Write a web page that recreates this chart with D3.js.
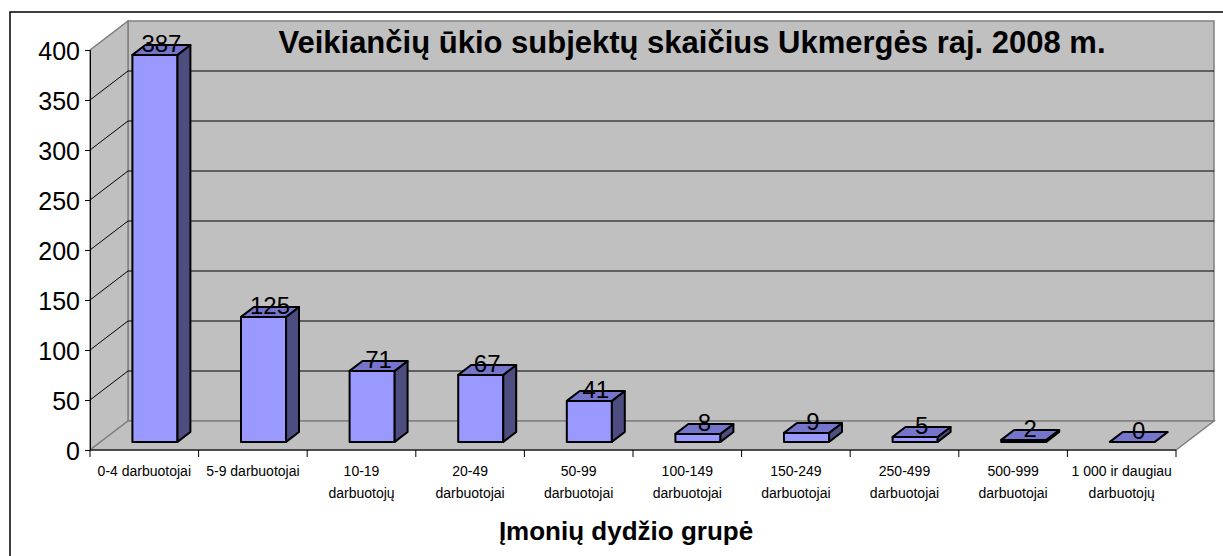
<!DOCTYPE html>
<html>
<head>
<meta charset="utf-8">
<script src="https://cdn.jsdelivr.net/npm/d3@7"></script>
<style>
  body { margin: 0; background: #fff; }
  text { font-family: Arial, "Liberation Sans", sans-serif; }
</style>
</head>
<body>
<svg width="1223" height="556"></svg>
<script>
var categories = ["0-4 darbuotojai", "5-9 darbuotojai", "10-19|darbuotojų", "20-49|darbuotojai",
    "50-99|darbuotojai", "100-149|darbuotojai", "150-249|darbuotojai", "250-499|darbuotojai",
    "500-999|darbuotojai", "1 000 ir daugiau|darbuotojų"];
var values = [387, 125, 71, 67, 41, 8, 9, 5, 2, 0];
var yTicks = [0, 50, 100, 150, 200, 250, 300, 350, 400];
var title = "Veikiančių ūkio subjektų skaičius Ukmergės raj. 2008 m.";
var xTitle = "Įmonių dydžio grupė";

var svg = d3.select("svg");

// 3D depth offset of the back wall
var DX = 38, DY = -29;

var x = d3.scaleBand()
    .domain(categories)
    .range([90, 1176]);

var y = d3.scaleLinear()
    .domain([0, 400])
    .range([450, 50]);

function p(px, v, depth) {
    return [px + depth * DX, y(v) + depth * DY];
}
function poly(pts) {
    return pts.map(function (d) { return d.join(","); }).join(" ");
}

// chart area border
svg.append("rect")
    .attr("x", 10).attr("y", 12)
    .attr("width", 1240).attr("height", 560)
    .attr("fill", "#fff")
    .attr("stroke", "#000")
    .attr("stroke-width", 1.5);

var x0 = x.range()[0], x1 = x.range()[1];
var walls = svg.append("g").attr("fill", "#c0c0c0").attr("stroke", "#808080").attr("stroke-width", 1.5);

// back wall
walls.append("polygon").attr("points", poly([p(x0, 0, 1), p(x1, 0, 1), p(x1, 400, 1), p(x0, 400, 1)]));
// left wall
walls.append("polygon").attr("points", poly([p(x0, 0, 0), p(x0, 0, 1), p(x0, 400, 1), p(x0, 400, 0)]));
// floor
walls.append("polygon").attr("points", poly([p(x0, 0, 0), p(x1, 0, 0), p(x1, 0, 1), p(x0, 0, 1)]));

// gridlines on back and left walls
var grid = svg.append("g").attr("stroke", "#000").attr("stroke-width", 1).attr("fill", "none");
yTicks.filter(function (d) { return d > 0 && d < 400; }).forEach(function (t) {
    grid.append("polyline").attr("points", poly([p(x0, t, 0), p(x0, t, 1), p(x1, t, 1)]));
});
grid.append("line")
    .attr("x1", p(x0, 400, 0)[0]).attr("y1", p(x0, 400, 0)[1])
    .attr("x2", p(x0, 400, 1)[0]).attr("y2", p(x0, 400, 1)[1])
    .attr("stroke", "#808080");

// y axis
svg.append("g")
    .attr("transform", "translate(" + x0 + ",0)")
    .call(d3.axisLeft(y).tickValues(yTicks).tickSize(5).tickPadding(5))
    .call(function (g) {
        g.select(".domain").attr("stroke", "#000");
        g.selectAll(".tick line").attr("stroke", "#000");
        g.selectAll(".tick text")
            .attr("font-size", 25)
            .attr("font-family", "Arial, 'Liberation Sans', sans-serif")
            .attr("fill", "#000")
            .attr("dy", "0.36em");
    });

// x axis line and boundary ticks
var xa = svg.append("g").attr("stroke", "#000").attr("stroke-width", 1);
xa.append("line").attr("x1", x0).attr("x2", x1).attr("y1", y(0)).attr("y2", y(0));
categories.concat([null]).forEach(function (c) {
    var tx = c === null ? x1 : x(c);
    xa.append("line").attr("x1", tx).attr("x2", tx).attr("y1", y(0)).attr("y2", y(0) + 7);
});

// category labels
var labels = svg.append("g")
    .attr("font-size", 14)
    .attr("text-anchor", "middle")
    .attr("fill", "#000");
categories.forEach(function (c) {
    var lines = c.split("|");
    var t = labels.append("text").attr("x", x(c) + x.bandwidth() / 2).attr("y", 476);
    lines.forEach(function (l, i) {
        t.append("tspan").attr("x", x(c) + x.bandwidth() / 2).attr("dy", i ? 22 : 0).text(l);
    });
});

// bars
var d0 = 0.28, d1 = 0.62, bw = x.bandwidth() * 0.415;
var bars = svg.append("g").attr("stroke", "#000").attr("stroke-width", 2).attr("stroke-linejoin", "round");
categories.forEach(function (c, i) {
    var v = values[i];
    var bl = x(c) + (x.bandwidth() - bw) / 2, br = bl + bw;
    var g = bars.append("g");
    if (v > 0) {
        g.append("polygon").attr("fill", "#9999ff")
            .attr("points", poly([p(bl, 0, d0), p(br, 0, d0), p(br, v, d0), p(bl, v, d0)]));
        g.append("polygon").attr("fill", "#4d4d80")
            .attr("points", poly([p(br, 0, d0), p(br, 0, d1), p(br, v, d1), p(br, v, d0)]));
    }
    g.append("polygon").attr("fill", "#7575cc")
        .attr("points", poly([p(bl, v, d0), p(br, v, d0), p(br, v, d1), p(bl, v, d1)]));
});

// value labels
svg.append("g")
    .attr("font-size", 24)
    .attr("text-anchor", "middle")
    .attr("fill", "#000")
    .selectAll("text")
    .data(values)
    .enter().append("text")
    .attr("x", function (d, i) { return p(x(categories[i]) + x.bandwidth() / 2, d, (d0 + d1) / 2)[0]; })
    .attr("y", function (d, i) { return p(0, d, (d0 + d1) / 2)[1] + 2; })
    .text(function (d) { return d; });

// titles
svg.append("text")
    .attr("x", 692).attr("y", 53)
    .attr("text-anchor", "middle")
    .attr("font-size", 31)
    .attr("font-weight", "bold")
    .text(title);

svg.append("text")
    .attr("x", 626).attr("y", 540)
    .attr("text-anchor", "middle")
    .attr("font-size", 26)
    .attr("font-weight", "bold")
    .text(xTitle);
</script>
</body>
</html>
